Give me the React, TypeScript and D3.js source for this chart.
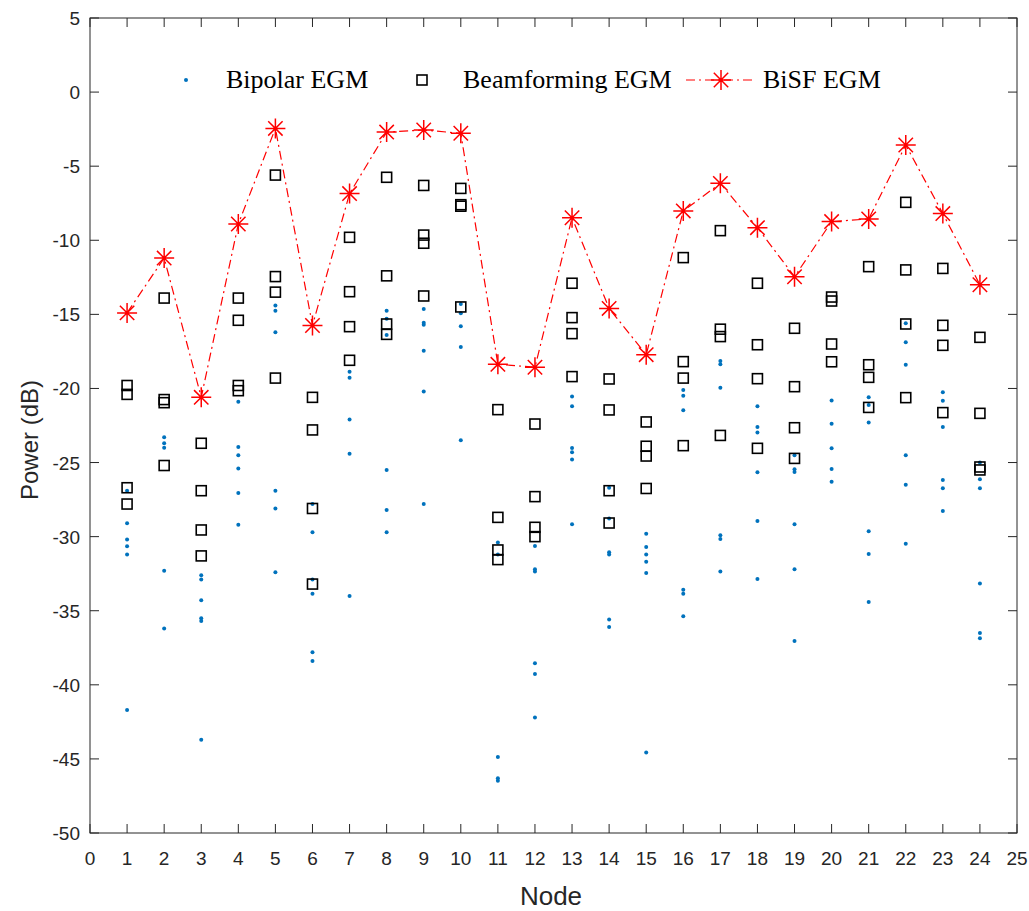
import React, { useEffect, useRef } from "react";
import * as d3 from "d3";

// node index on the x axis
const nodes = d3.range(1, 25);

// BiSF EGM power per node (dB)
const bisf = [
  -14.9, -11.2, -20.6, -8.9, -2.45, -15.75, -6.85, -2.7, -2.56, -2.78, -18.37, -18.57,
  -8.48, -14.6, -17.72, -8.02, -6.16, -9.15, -12.46, -8.74, -8.56, -3.57, -8.2, -13.0,
];

// Beamforming EGM power per node (dB)
const beamforming = [
  [-19.8, -20.4, -26.7, -27.8],
  [-13.9, -20.75, -20.96, -25.2],
  [-23.7, -26.9, -29.55, -31.3],
  [-13.9, -15.4, -19.8, -20.15],
  [-5.6, -12.45, -13.5, -19.3],
  [-20.6, -22.8, -28.1, -33.2],
  [-9.8, -13.47, -15.83, -18.1],
  [-5.75, -12.4, -15.65, -16.35],
  [-6.3, -9.65, -10.2, -13.76],
  [-6.5, -7.6, -7.7, -14.5],
  [-21.43, -28.7, -30.9, -31.55],
  [-22.4, -27.3, -29.37, -30.0],
  [-12.9, -15.22, -16.3, -19.2],
  [-19.36, -21.45, -26.9, -29.08],
  [-22.26, -23.9, -24.56, -26.75],
  [-11.17, -18.19, -19.3, -23.86],
  [-9.35, -16.0, -16.5, -23.17],
  [-12.9, -17.05, -19.34, -24.04],
  [-15.94, -19.88, -22.65, -24.72],
  [-13.83, -14.1, -17.0, -18.2],
  [-11.78, -18.4, -19.25, -21.28],
  [-7.44, -12.0, -15.65, -20.62],
  [-11.9, -15.74, -17.09, -21.63],
  [-16.55, -21.68, -25.3, -25.5],
];

// Bipolar EGM power per node (dB)
const bipolar = [
  [-26.9, -29.1, -30.2, -30.65, -31.2, -41.7],
  [-23.3, -23.7, -24.0, -32.3, -36.2],
  [-32.6, -32.9, -34.3, -35.5, -35.7, -43.7],
  [-20.9, -23.95, -24.5, -25.4, -27.05, -29.2],
  [-14.4, -14.75, -16.2, -26.9, -28.1, -32.4],
  [-27.8, -29.7, -32.9, -33.85, -37.8, -38.4],
  [-18.87, -19.27, -22.1, -24.4, -34.0],
  [-14.75, -15.3, -16.4, -25.5, -28.2, -29.7],
  [-14.64, -15.56, -15.7, -17.45, -20.2, -27.8],
  [-14.3, -14.93, -15.8, -17.2, -23.5],
  [-30.4, -31.2, -44.87, -46.3, -46.47],
  [-30.63, -32.2, -32.35, -38.55, -39.27, -42.2],
  [-20.55, -21.2, -24.02, -24.3, -24.8, -29.17],
  [-26.7, -28.77, -31.06, -31.2, -35.6, -36.1],
  [-29.8, -30.7, -31.2, -31.7, -32.45, -44.56],
  [-20.1, -20.5, -21.47, -33.58, -33.85, -35.38],
  [-18.15, -18.37, -19.95, -29.9, -30.16, -32.35],
  [-21.2, -22.6, -22.98, -25.66, -28.95, -32.86],
  [-24.5, -25.46, -25.64, -29.17, -32.2, -37.04],
  [-20.82, -22.38, -24.04, -25.44, -26.3],
  [-20.6, -21.12, -22.3, -29.64, -31.17, -34.41],
  [-15.6, -16.89, -18.4, -24.5, -26.5, -30.48],
  [-20.26, -20.83, -22.6, -26.18, -26.74, -28.27],
  [-25.0, -26.13, -26.74, -33.17, -36.5, -36.86],
];

const xTicks = d3.range(0, 26);
const yTicks = d3.range(-50, 6, 5);
const legendLabels = ["Bipolar EGM", "Beamforming EGM", "BiSF EGM"];

const W = 1029;
const H = 911;
const left = 90, right = 1017, top = 18, bottom = 833;
const blue = "#0072BD";

const starPath = (r: number) => {
  const d = r * 0.72;
  return `M${-r},0L${r},0M0,${-r}L0,${r}M${-d},${-d}L${d},${d}M${-d},${d}L${d},${-d}`;
};

const App = () => {
  const ref = useRef<SVGSVGElement>(null);

  useEffect(() => {
    const svg = d3.select(ref.current);
    svg.selectAll("*").remove();

    const x = d3.scaleLinear().domain([0, 25]).range([left, right]);
    const y = d3.scaleLinear().domain([-50, 5]).range([bottom, top]);

    svg.append("rect").attr("width", W).attr("height", H).attr("fill", "#fff");

    // axes, ticks inside, MATLAB box
    const tick = 9;
    const axis = svg.append("g").attr("stroke", "#262626").attr("stroke-width", 1);
    xTicks.forEach(t => {
      axis.append("line").attr("x1", x(t)).attr("x2", x(t)).attr("y1", bottom).attr("y2", bottom - tick);
      axis.append("line").attr("x1", x(t)).attr("x2", x(t)).attr("y1", top).attr("y2", top + tick);
    });
    yTicks.forEach(t => {
      axis.append("line").attr("x1", left).attr("x2", left + tick).attr("y1", y(t)).attr("y2", y(t));
      axis.append("line").attr("x1", right).attr("x2", right - tick).attr("y1", y(t)).attr("y2", y(t));
    });
    svg.append("rect")
      .attr("x", left).attr("y", top)
      .attr("width", right - left).attr("height", bottom - top)
      .attr("fill", "none").attr("stroke", "#262626").attr("stroke-width", 1);

    const labelFont = "'Liberation Sans', Arial, sans-serif";
    svg.append("g").selectAll("text").data(xTicks).join("text")
      .attr("x", d => x(d)).attr("y", bottom + 32)
      .attr("text-anchor", "middle")
      .attr("font-family", labelFont).attr("font-size", 19).attr("fill", "#262626")
      .text(d => d);
    svg.append("g").selectAll("text").data(yTicks).join("text")
      .attr("x", left - 10).attr("y", d => y(d) + 7)
      .attr("text-anchor", "end")
      .attr("font-family", labelFont).attr("font-size", 19).attr("fill", "#262626")
      .text(d => d);

    svg.append("text")
      .attr("x", 551).attr("y", 905)
      .attr("text-anchor", "middle")
      .attr("font-family", labelFont).attr("font-size", 26).attr("fill", "#262626")
      .text("Node");
    svg.append("text")
      .attr("transform", `translate(38,440) rotate(-90)`)
      .attr("text-anchor", "middle")
      .attr("font-family", labelFont).attr("font-size", 24).attr("fill", "#262626")
      .text("Power (dB)");

    // bipolar dots
    const bip = bipolar.flatMap((vals, i) => vals.map(v => ({ n: nodes[i], v })));
    svg.append("g").selectAll("circle").data(bip).join("circle")
      .attr("cx", d => x(d.n)).attr("cy", d => y(d.v))
      .attr("r", 2).attr("fill", blue);

    // beamforming squares
    const sq = 10;
    const bf = beamforming.flatMap((vals, i) => vals.map(v => ({ n: nodes[i], v })));
    svg.append("g").selectAll("rect").data(bf).join("rect")
      .attr("x", d => x(d.n) - sq / 2).attr("y", d => y(d.v) - sq / 2)
      .attr("width", sq).attr("height", sq)
      .attr("fill", "none").attr("stroke", "#000").attr("stroke-width", 1.6);

    // BiSF line + stars
    const line = d3.line<number>().x((_, i) => x(nodes[i])).y(d => y(d));
    svg.append("path").attr("d", line(bisf))
      .attr("fill", "none").attr("stroke", "#ff0000").attr("stroke-width", 1.2)
      .attr("stroke-dasharray", "9,4,2,4");
    svg.append("g").selectAll("path").data(bisf).join("path")
      .attr("transform", (d, i) => `translate(${x(nodes[i])},${y(d)})`)
      .attr("d", starPath(10))
      .attr("fill", "none").attr("stroke", "#ff0000").attr("stroke-width", 1.5);

    // legend
    const ly = 80;
    const legFont = "'Liberation Serif', 'Times New Roman', serif";
    const leg = svg.append("g");
    leg.append("circle").attr("cx", 186).attr("cy", ly).attr("r", 2).attr("fill", blue);
    leg.append("rect").attr("x", 422 - sq / 2).attr("y", ly - sq / 2)
      .attr("width", sq).attr("height", sq)
      .attr("fill", "none").attr("stroke", "#000").attr("stroke-width", 1.6);
    leg.append("line").attr("x1", 686).attr("x2", 756).attr("y1", ly).attr("y2", ly)
      .attr("stroke", "#ff0000").attr("stroke-width", 1.2).attr("stroke-dasharray", "9,4,2,4");
    leg.append("path").attr("transform", `translate(721,${ly})`).attr("d", starPath(10))
      .attr("fill", "none").attr("stroke", "#ff0000").attr("stroke-width", 1.5);
    [226, 463, 763].forEach((lx, i) => {
      leg.append("text").attr("x", lx).attr("y", ly + 8)
        .attr("font-family", legFont).attr("font-size", 26).attr("fill", "#000")
        .text(legendLabels[i]);
    });
  }, []);

  return (
    <svg
      ref={ref}
      width={W}
      height={H}
      style={{ position: "absolute", left: 0, top: 0 }}
    ></svg>
  );
};

export default App;
